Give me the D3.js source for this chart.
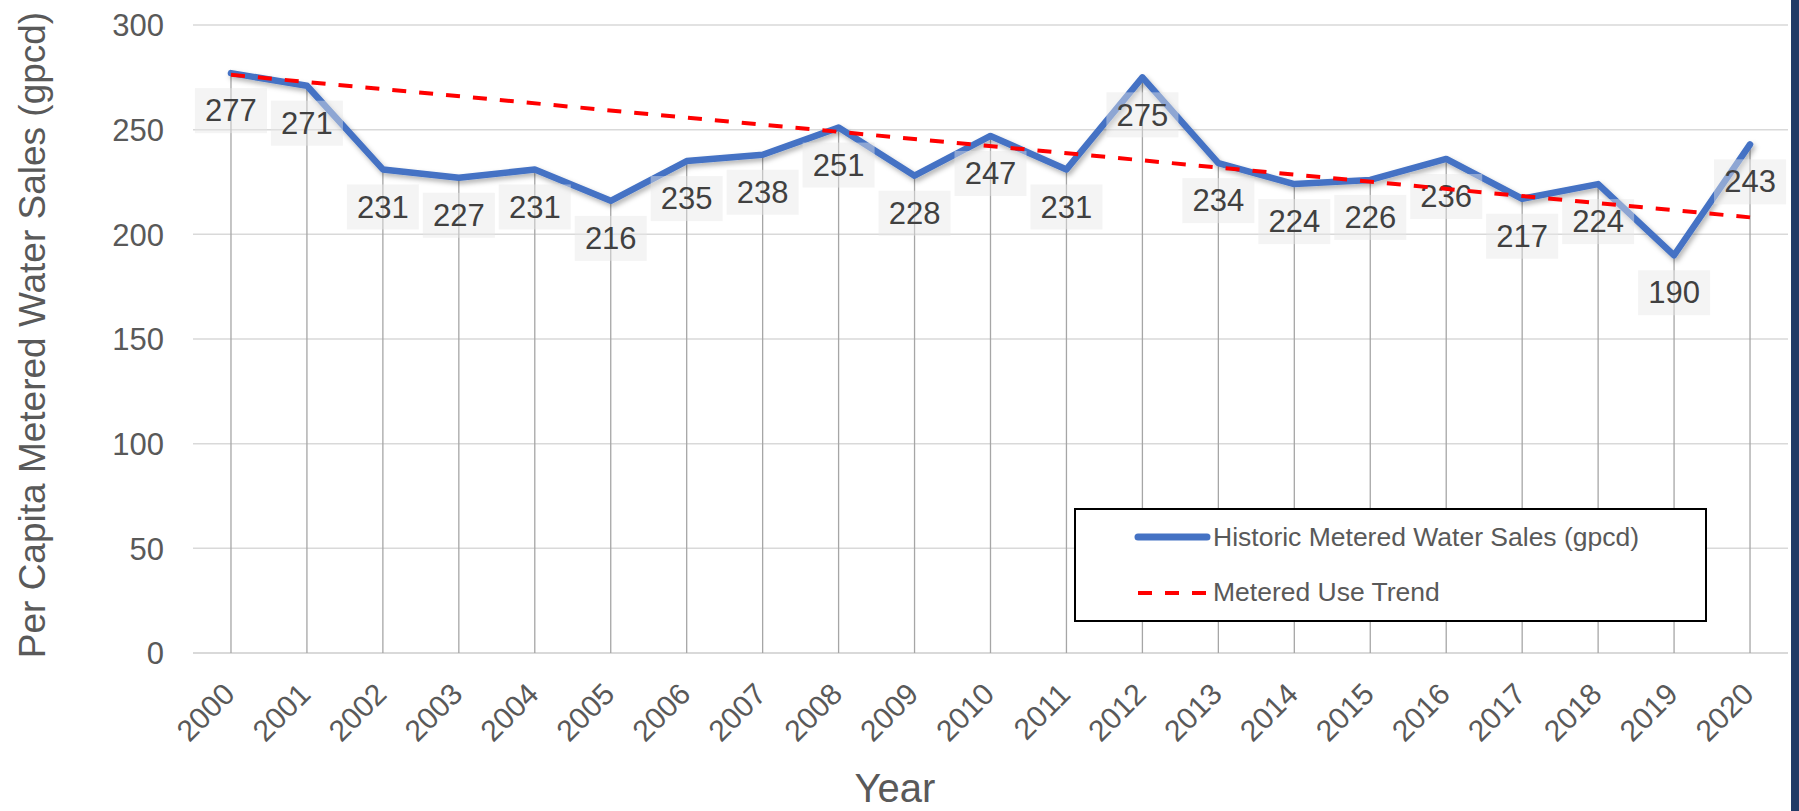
<!DOCTYPE html>
<html>
<head>
<meta charset="utf-8">
<script src="https://cdn.jsdelivr.net/npm/d3@7"></script>
<style>
  html, body { margin: 0; padding: 0; background: #ffffff; }
  svg { display: block; font-family: "Liberation Sans", Arial, sans-serif; }
</style>
</head>
<body>
<svg id="chart" width="1799" height="811"></svg>
<script>
// Per-capita metered water sales by year
const years = ["2000","2001","2002","2003","2004","2005","2006","2007","2008","2009","2010",
               "2011","2012","2013","2014","2015","2016","2017","2018","2019","2020"];
const salesGpcd = [277,271,231,227,231,216,235,238,251,228,247,231,275,234,224,226,236,217,224,190,243];

// Metered use trend line (end points)
const trendYears = ["2000","2020"];
const trendValues = [276.2, 208.1];

const yTicks = [0,50,100,150,200,250,300];

const seriesNames = ["Historic Metered Water Sales (gpcd)", "Metered Use Trend"];
const axisTitles = { y: "Per Capita Metered Water Sales (gpcd)", x: "Year" };

const W = 1799, H = 811;
const plot = { left: 193, right: 1788, top: 25, bottom: 653 };

const svg = d3.select("#chart");

const defs = svg.append("defs");
const shadow = defs.append("filter").attr("id", "lineShadow")
  .attr("x", "-5%").attr("y", "-20%").attr("width", "110%").attr("height", "140%");
shadow.append("feDropShadow")
  .attr("dx", 2).attr("dy", 3).attr("stdDeviation", 2.5)
  .attr("flood-color", "#000").attr("flood-opacity", 0.3);

const x = d3.scalePoint().domain(years).range([plot.left, plot.right]).padding(0.5);
const y = d3.scaleLinear().domain([0, 300]).range([plot.bottom, plot.top]);

// Horizontal gridlines
svg.append("g").selectAll("line").data(yTicks.filter(d => d > 0)).join("line")
  .attr("x1", plot.left).attr("x2", plot.right)
  .attr("y1", d => y(d)).attr("y2", d => y(d))
  .attr("stroke", "#d9d9d9").attr("stroke-width", 1.5);

// Baseline
svg.append("line")
  .attr("x1", plot.left).attr("x2", plot.right)
  .attr("y1", y(0)).attr("y2", y(0))
  .attr("stroke", "#d9d9d9").attr("stroke-width", 2);

// Y axis labels
const yAxis = d3.axisLeft(y).tickValues(yTicks).tickSize(0).tickPadding(0);
const gy = svg.append("g").attr("transform", "translate(164,0)").call(yAxis);
gy.select(".domain").remove();
gy.selectAll("text")
  .attr("x", 0).attr("dy", "0.35em")
  .attr("font-size", 31).attr("fill", "#595959")
  .attr("font-family", "Liberation Sans, Arial, sans-serif");

// X axis labels (rotated)
const xAxis = d3.axisBottom(x).tickSize(0).tickPadding(0);
const gx = svg.append("g").attr("transform", `translate(0,${plot.bottom})`).call(xAxis);
gx.select(".domain").remove();
gx.selectAll(".tick text")
  .attr("y", 0).attr("dy", 0)
  .attr("transform", "translate(5,43) rotate(-45)")
  .attr("text-anchor", "end")
  .attr("font-size", 30).attr("fill", "#595959")
  .attr("font-family", "Liberation Sans, Arial, sans-serif");

// Drop lines from each point to the axis
svg.append("g").selectAll("line").data(salesGpcd).join("line")
  .attr("x1", (d, i) => x(years[i])).attr("x2", (d, i) => x(years[i]))
  .attr("y1", d => y(d)).attr("y2", y(0))
  .attr("stroke", "#a6a6a6").attr("stroke-width", 1.3);

// Historic sales line
const line = d3.line().x((d, i) => x(years[i])).y(d => y(d));
svg.append("path").datum(salesGpcd)
  .attr("d", line)
  .attr("fill", "none").attr("stroke", "#4472c4")
  .attr("stroke-width", 6.5).attr("stroke-linejoin", "round").attr("stroke-linecap", "round")
  .attr("filter", "url(#lineShadow)");

// Data labels below each point
const labels = svg.append("g").selectAll("g").data(salesGpcd).join("g")
  .attr("transform", (d, i) => `translate(${x(years[i])},${y(d) + 37})`);
labels.append("rect")
  .attr("x", -36).attr("y", -22).attr("width", 72).attr("height", 45)
  .attr("fill", "#e6e6e6").attr("fill-opacity", 0.45);
labels.append("text")
  .attr("text-anchor", "middle").attr("dy", "0.36em")
  .attr("font-size", 31).attr("fill", "#404040")
  .text(d => d);

// Trend line
const trendLine = d3.line().x((d, i) => x(trendYears[i])).y(d => y(d));
svg.append("path").datum(trendValues)
  .attr("d", trendLine)
  .attr("fill", "none").attr("stroke", "#ff0000")
  .attr("stroke-width", 4).attr("stroke-dasharray", "14,13");

// Legend
const lg = svg.append("g").attr("transform", "translate(1075,509)");
lg.append("rect").attr("width", 631).attr("height", 112)
  .attr("fill", "#ffffff").attr("stroke", "#000000").attr("stroke-width", 2);
lg.append("line").attr("x1", 63).attr("x2", 132).attr("y1", 28).attr("y2", 28)
  .attr("stroke", "#4472c4").attr("stroke-width", 7).attr("stroke-linecap", "round");
lg.append("line").attr("x1", 63).attr("x2", 132).attr("y1", 84).attr("y2", 84)
  .attr("stroke", "#ff0000").attr("stroke-width", 4).attr("stroke-dasharray", "14,13");
lg.selectAll("text.leg").data(seriesNames).join("text").attr("class", "leg")
  .attr("x", 138).attr("y", (d, i) => 37 + i * 55)
  .attr("font-size", 26.5).attr("fill", "#595959")
  .text(d => d);

// Axis titles
svg.append("text")
  .attr("transform", "translate(45,335) rotate(-90)")
  .attr("text-anchor", "middle")
  .attr("font-size", 37).attr("fill", "#595959")
  .text(axisTitles.y);
svg.append("text")
  .attr("x", 895).attr("y", 802)
  .attr("text-anchor", "middle")
  .attr("font-size", 40).attr("fill", "#595959")
  .text(axisTitles.x);

// Right edge band
svg.append("rect").attr("x", 1791).attr("y", 0).attr("width", 8).attr("height", H)
  .attr("fill", "#223a66");
</script>
</body>
</html>
